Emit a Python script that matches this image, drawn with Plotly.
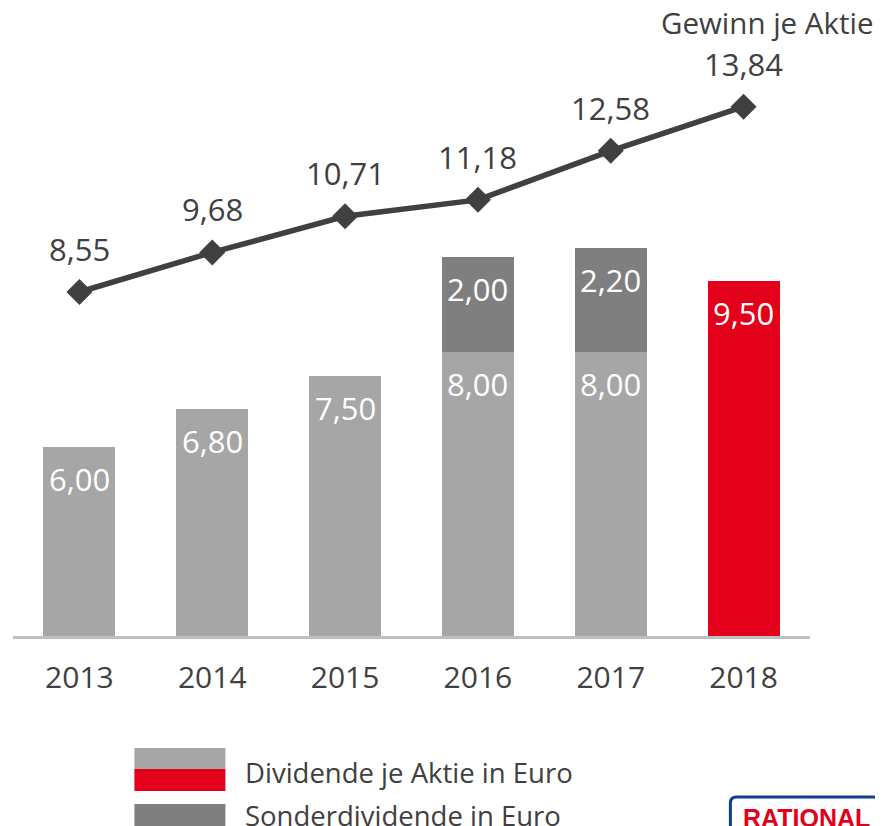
import plotly.graph_objects as go

years = ["2013", "2014", "2015", "2016", "2017", "2018"]
dividende = [6.00, 6.80, 7.50, 8.00, 8.00, 9.50]
sonder = [None, None, None, 2.00, 2.20, None]
gewinn = [8.55, 9.68, 10.71, 11.18, 12.58, 13.84]

fmt = lambda v: f"{v:.2f}".replace(".", ",")

LIGHT = "#A6A6A6"
DARK = "#7F7F7F"
RED = "#E2001A"
TEXT = "#404040"
FONT = "Open Sans"

OFF = 8  # page body margin
W, H = 875, 818
# plot area in screen pixels
S_L, S_R, S_T, S_B = 12.6, 809.6, 10, 636
ML = S_L - OFF
MR = W - (S_R - OFF)
MT = S_T - OFF
MB = H - (S_B - OFF)


def px(x):
    return (x - S_L) / (S_R - S_L)


def py(y):
    return (S_B - y) / (S_B - S_T)


bar_colors = [LIGHT] * (len(years) - 1) + [RED]

fig = go.Figure()
fig.add_trace(go.Bar(x=years, y=dividende, marker=dict(color=bar_colors, line=dict(width=0)),
                     showlegend=False, hoverinfo="skip"))
fig.add_trace(go.Bar(x=years, y=sonder, marker=dict(color=DARK, line=dict(width=0)),
                     showlegend=False, hoverinfo="skip"))
fig.add_trace(go.Scatter(x=years, y=gewinn, yaxis="y2", mode="lines+markers",
                         line=dict(color=TEXT, width=5.5),
                         marker=dict(symbol="diamond", size=20, color=TEXT),
                         showlegend=False, hoverinfo="skip"))

annotations = []
# bar labels (x given as category index)
for i, (d, s) in enumerate(zip(dividende, sonder)):
    annotations.append(dict(x=i, y=d, xref="x", yref="y", text=fmt(d), showarrow=False,
                            yanchor="top", yshift=-9, font=dict(family=FONT, size=31, color="white")))
    if s is not None:
        annotations.append(dict(x=i, y=d + s, xref="x", yref="y", text=fmt(s), showarrow=False,
                                yanchor="top", yshift=-9, font=dict(family=FONT, size=31, color="white")))
# line labels
for i, g in enumerate(gewinn):
    annotations.append(dict(x=i, y=g, xref="x", yref="y2", text=fmt(g), showarrow=False,
                            yanchor="middle", yshift=43, font=dict(family=FONT, size=31, color=TEXT)))
# series title
annotations.append(dict(x=px(767), y=py(23), xref="paper", yref="paper", text="Gewinn je Aktie",
                        showarrow=False, xanchor="center", yanchor="middle",
                        font=dict(family=FONT, size=29.5, color=TEXT)))
# legend texts
annotations.append(dict(x=px(243), y=py(772), xref="paper", yref="paper", text="Dividende je Aktie in Euro",
                        showarrow=False, xanchor="left", yanchor="middle",
                        font=dict(family=FONT, size=27.5, color=TEXT)))
annotations.append(dict(x=px(243), y=py(815), xref="paper", yref="paper", text="Sonderdividende in Euro",
                        showarrow=False, xanchor="left", yanchor="middle",
                        font=dict(family=FONT, size=27.5, color=TEXT)))
# logo text
annotations.append(dict(x=px(806), y=py(818), xref="paper", yref="paper", text="<b>RATIONAL</b>",
                        showarrow=False, xanchor="center", yanchor="middle",
                        font=dict(family="Liberation Sans", size=25, color=RED)))

shapes = [
    dict(type="rect", xref="paper", yref="paper", x0=px(134), x1=px(225), y0=py(769), y1=py(748),
         fillcolor=LIGHT, line=dict(width=0)),
    dict(type="rect", xref="paper", yref="paper", x0=px(134), x1=px(225), y0=py(791), y1=py(769),
         fillcolor=RED, line=dict(width=0)),
    dict(type="rect", xref="paper", yref="paper", x0=px(134), x1=px(225), y0=py(830), y1=py(804),
         fillcolor=DARK, line=dict(width=0)),
    # logo border
    dict(type="path", xref="paper", yref="paper",
         path=(f"M {px(730)},{py(840)} L {px(730)},{py(803)} Q {px(730)},{py(797)} {px(736)},{py(797)} "
               f"L {px(873)},{py(797)} Q {px(879)},{py(797)} {px(879)},{py(803)} L {px(879)},{py(840)}"),
         line=dict(color="#123F8C", width=3)),
]

fig.update_layout(
    width=W, height=H,
    margin=dict(l=ML, r=MR, t=MT, b=MB, pad=0),
    barmode="stack", bargap=0.458,
    plot_bgcolor="white", paper_bgcolor="white",
    font=dict(family=FONT, color=TEXT),
    xaxis=dict(type="category", categoryorder="array", categoryarray=years,
               range=[-0.5, len(years) - 0.5], autorange=False,
               showline=True, linecolor="#BFBFBF", linewidth=3, showgrid=False,
               zeroline=False, ticks="outside", ticklen=13, tickcolor="white",
               tickfont=dict(family=FONT, size=30, color=TEXT)),
    yaxis=dict(range=[2.0, 15.22], autorange=False, visible=False, showgrid=False, zeroline=False),
    yaxis2=dict(range=[-1.27, 16.6], autorange=False, overlaying="y", visible=False,
                showgrid=False, zeroline=False),
    annotations=annotations,
    shapes=shapes,
    showlegend=False,
)

fig.write_html("out.html")
